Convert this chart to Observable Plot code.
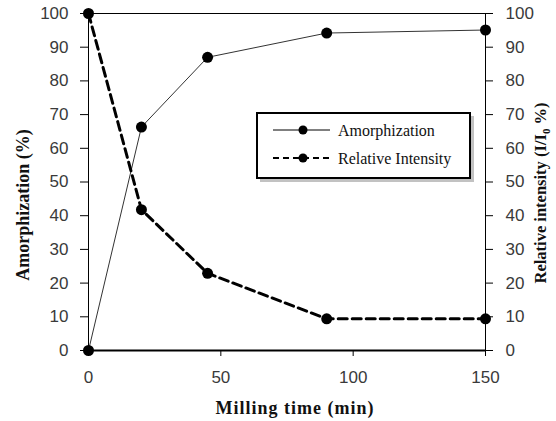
<!DOCTYPE html>
<html>
<head>
<meta charset="utf-8">
<script src="https://cdn.jsdelivr.net/npm/d3@7"></script>
<script src="https://cdn.jsdelivr.net/npm/@observablehq/plot@0.6"></script>
<style>
  html, body { margin: 0; padding: 0; background: #fff; }
  #chart { width: 556px; height: 421px; }
</style>
</head>
<body>
<div id="chart"></div>
<script>
const times = [0, 20, 45, 90, 150];
const amorphization = [0, 66.3, 87, 94.2, 95.1];
const relIntensity = [100, 41.8, 22.9, 9.4, 9.4];
const xTicks = [0, 50, 100, 150];
const yTicks = [0, 10, 20, 30, 40, 50, 60, 70, 80, 90, 100];
const xTitle = "Milling time (min)";
const yLeftTitle = "Amorphization (%)";
const seriesNames = ["Amorphization", "Relative Intensity"];

const data = times.map((t, i) => ({t, a: amorphization[i], r: relIntensity[i]}));

const tickFont = "'Liberation Sans', sans-serif";
const plot = Plot.plot({
  width: 556,
  height: 421,
  marginLeft: 88,
  marginRight: 71,
  marginTop: 13,
  marginBottom: 71,
  style: {fontFamily: tickFont, fontSize: "17px", color: "#3a3a3a", background: "#fff", overflow: "visible"},
  x: {domain: [0, 150]},
  y: {domain: [0, 100]},
  marks: [
    Plot.axisY(yTicks, {anchor: "left", tickSize: 8, tickPadding: 12, label: null, stroke: "#000", fill: "#3a3a3a"}),
    Plot.axisY(yTicks, {anchor: "right", tickSize: 7, tickPadding: 13, label: null, stroke: "#000", fill: "#3a3a3a"}),
    Plot.axisX(xTicks, {anchor: "bottom", tickSize: 6, tickPadding: 14, label: null, stroke: "#000", fill: "#3a3a3a"}),
    Plot.ruleX([0], {stroke: "#000", strokeWidth: 1}),
    Plot.ruleX([150], {stroke: "#000", strokeWidth: 1}),
    Plot.ruleY([100], {stroke: "#000", strokeWidth: 1}),
    Plot.ruleY([0], {stroke: "#000", strokeWidth: 2.2}),
    Plot.line(data, {x: "t", y: "a", stroke: "#333", strokeWidth: 1}),
    Plot.line(data, {x: "t", y: "r", stroke: "#000", strokeWidth: 3, strokeDasharray: "9,5"}),
    Plot.dot(data, {x: "t", y: "a", r: 5.5, fill: "#000"}),
    Plot.dot(data, {x: "t", y: "r", r: 5.5, fill: "#000"})
  ]
});

document.getElementById("chart").appendChild(plot);
const svg = d3.select(plot);
const titleFont = "'Liberation Serif', 'DejaVu Serif', serif";

// Axis titles
svg.append("text")
  .attr("x", 295).attr("y", 414)
  .attr("text-anchor", "middle")
  .attr("font-family", titleFont).attr("font-weight", "bold").attr("font-size", 18)
  .attr("letter-spacing", 1)
  .attr("fill", "#111")
  .text(xTitle);

svg.append("text")
  .attr("transform", "translate(29,205) rotate(-90)")
  .attr("text-anchor", "middle")
  .attr("font-family", titleFont).attr("font-weight", "bold").attr("font-size", 18)
  .attr("fill", "#111")
  .text(yLeftTitle);

const rt = svg.append("text")
  .attr("transform", "translate(546,193) rotate(-90)")
  .attr("text-anchor", "middle")
  .attr("font-family", titleFont).attr("font-weight", "bold").attr("font-size", 16.5)
  .attr("fill", "#111");
rt.append("tspan").text("Relative intensity (I/I");
rt.append("tspan").attr("dy", 4).attr("font-size", 11).text("0");
rt.append("tspan").attr("dy", -4).text(" %)");

// Legend
const lg = svg.append("g");
lg.append("rect").attr("x", 260).attr("y", 116).attr("width", 214).attr("height", 66).attr("fill", "#999").attr("opacity", 0.6);
lg.append("rect").attr("x", 257).attr("y", 113).attr("width", 213).attr("height", 65).attr("fill", "#fff").attr("stroke", "#000").attr("stroke-width", 2);
const rows = [
  {name: seriesNames[0], y: 130, dash: null, w: 1},
  {name: seriesNames[1], y: 158, dash: "6,4", w: 2}
];
rows.forEach(r => {
  lg.append("line").attr("x1", 273).attr("x2", 330).attr("y1", r.y).attr("y2", r.y)
    .attr("stroke", "#000").attr("stroke-width", r.w).attr("stroke-dasharray", r.dash);
  lg.append("circle").attr("cx", 303).attr("cy", r.y).attr("r", 4.5).attr("fill", "#000");
  lg.append("text").attr("x", 338).attr("y", r.y).attr("dy", "0.35em")
    .attr("text-anchor", "start")
    .attr("font-family", titleFont).attr("font-size", 16).attr("fill", "#111").text(r.name);
});
</script>
</body>
</html>
